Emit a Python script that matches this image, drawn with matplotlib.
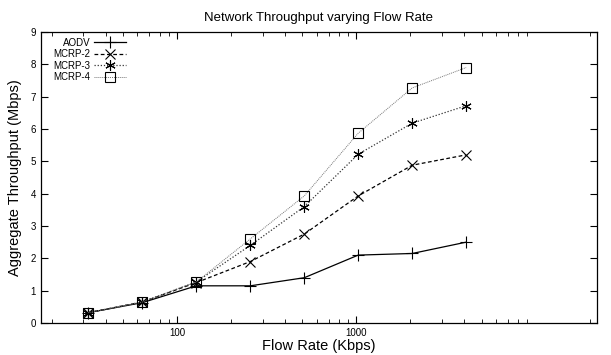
import matplotlib
matplotlib.use("Agg")
import matplotlib.pyplot as plt
from matplotlib.ticker import FixedLocator, NullFormatter, LogLocator

plt.rcParams["font.family"] = ["Liberation Sans", "DejaVu Sans"]

flow_rate = [32, 64, 128, 256, 512, 1024, 2048, 4096]
aodv = [0.32, 0.63, 1.15, 1.15, 1.40, 2.10, 2.15, 2.50]
mcrp2 = [0.32, 0.65, 1.25, 1.90, 2.75, 3.93, 4.88, 5.20]
mcrp3 = [0.32, 0.65, 1.27, 2.40, 3.60, 5.22, 6.18, 6.72]
mcrp4 = [0.32, 0.65, 1.27, 2.60, 3.93, 5.87, 7.27, 7.90]

fig = plt.figure(figsize=(6.11, 3.55), dpi=100)
ax = fig.add_axes([41 / 611, 32 / 355, 556 / 611, 291 / 355])

ax.plot(flow_rate, aodv, color="black", lw=0.9, ls="-", marker="+",
        ms=8, mew=0.8, label="AODV")
ax.plot(flow_rate, mcrp2, color="black", lw=0.9, ls=(0, (3, 2)), marker="x",
        ms=6.5, mew=0.8, label="MCRP-2")
ax.plot(flow_rate, mcrp3, color="#333333", lw=0.9, ls=(0, (1, 1.5)), marker=(6, 2, 0),
        ms=7.5, mew=0.8, mec="black", label="MCRP-3")
ax.plot(flow_rate, mcrp4, color="#777777", lw=0.7, ls=(0, (1, 1)), marker="s",
        ms=6.5, mew=0.8, mfc="none", mec="black", label="MCRP-4")

ax.set_xscale("log")
ax.set_xlim(17.4, 22000)
ax.set_ylim(0, 9)
ax.set_yticks(range(0, 10))
ax.xaxis.set_major_locator(FixedLocator([100, 1000]))
ax.xaxis.set_minor_locator(LogLocator(base=10, subs=range(2, 10)))
ax.xaxis.set_minor_formatter(NullFormatter())
ax.set_xticklabels(["100", "1000"])

ax.tick_params(which="both", direction="in", top=True, right=True, labelsize=7)
ax.tick_params(which="major", length=5)
ax.tick_params(which="minor", length=3)
for s in ax.spines.values():
    s.set_linewidth(0.9)

ax.set_xlabel("Flow Rate (Kbps)", fontsize=10.5, labelpad=1)
ax.set_ylabel("Aggregate Throughput (Mbps)", fontsize=10.5, labelpad=6)
ax.set_title("Network Throughput varying Flow Rate", fontsize=9.5, pad=8)

ax.legend(loc="upper left", bbox_to_anchor=(0.012, 1.0), frameon=False,
          markerfirst=False, fontsize=7, handlelength=3.2, handletextpad=0.4,
          labelspacing=0.15, borderaxespad=0.2)

fig.savefig("out.png", dpi=100)
